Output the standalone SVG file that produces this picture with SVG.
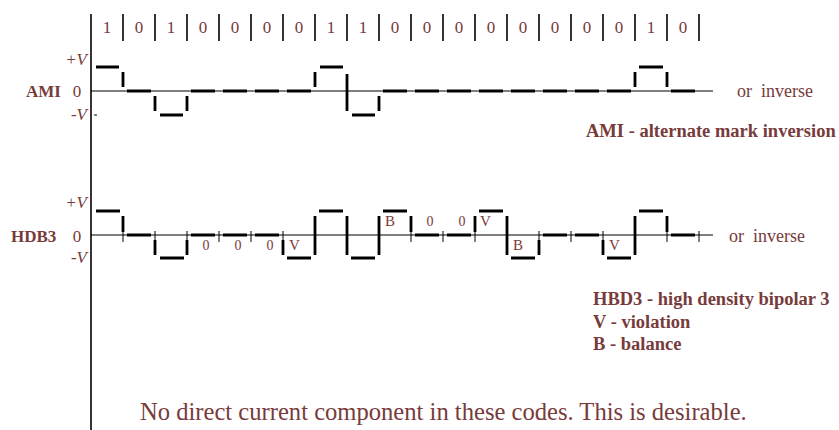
<svg xmlns="http://www.w3.org/2000/svg" width="839" height="430" viewBox="0 0 839 430">
<style>
.t{font-family:"Liberation Serif","Times New Roman",serif;fill:#773b3b}
.b{font-weight:bold}
.i{font-style:italic}
.thin{stroke:#000;stroke-width:1;fill:none}
.ax{stroke:#000;stroke-width:1.6;fill:none}
.p{stroke:#000;stroke-width:2.8;fill:none}
</style>
<rect width="839" height="430" fill="#fff"/>
<g id="axis">
<line class="ax" x1="91" y1="14" x2="91" y2="430"/>
</g>
<g id="bit-row">
<path class="ax" d="M123 14V41M155 14V41M187 14V41M219 14V41M251 14V41M283 14V41M315 14V41M347 14V41M379 14V41M411 14V41M443 14V41M475 14V41M507 14V41M539 14V41M571 14V41M603 14V41M635 14V41M667 14V41M699 14V41"/>
<g class="t" font-size="17" text-anchor="middle">
<text x="107" y="33">1</text><text x="139" y="33">0</text><text x="171" y="33">1</text><text x="203" y="33">0</text><text x="235" y="33">0</text><text x="267" y="33">0</text><text x="299" y="33">0</text><text x="331" y="33">1</text><text x="363" y="33">1</text><text x="395" y="33">0</text><text x="427" y="33">0</text><text x="459" y="33">0</text><text x="491" y="33">0</text><text x="523" y="33">0</text><text x="555" y="33">0</text><text x="587" y="33">0</text><text x="619" y="33">0</text><text x="651" y="33">1</text><text x="683" y="33">0</text>
</g>
</g>
<g id="ami">
<line class="thin" x1="91" y1="91" x2="713" y2="91"/>
<line class="thin" x1="94" y1="115" x2="97" y2="115"/>
<path class="p" d="M96 67H119M123 72V87M127 91H151M155 96V111M160 115H183M187 96V111M191 91H215M223 91H247M255 91H279M287 91H311M315 72V87M320 67H343M347 74V111M352 115H375M379 96V111M383 91H407M415 91H439M447 91H471M479 91H503M511 91H535M543 91H567M575 91H599M607 91H631M635 72V87M639 67H663M667 72V87M671 91H695"/>
<g class="t">
<text class="i" x="87" y="65" font-size="17" text-anchor="end">+V</text>
<text class="b" x="26" y="97" font-size="17">AMI</text>
<text x="77" y="97" font-size="17" text-anchor="middle">0</text>
<text class="i" x="87" y="120" font-size="17" text-anchor="end">-V</text>
<text x="737" y="97" font-size="18" xml:space="preserve">or  inverse</text>
<text class="b" x="586" y="137" font-size="18.5">AMI - alternate mark inversion</text>
</g>
</g>
<g id="hdb3">
<line class="thin" x1="91" y1="235" x2="713" y2="235"/>
<path class="thin" d="M123 231V242M155 231V242M187 231V242M219 231V242M251 231V242M283 231V242M411 231V242M443 231V242M475 231V242M539 231V242M571 231V242M603 231V242M667 231V242M699 231V242"/>
<path class="p" d="M96 211H120M123 216V232M127 235H151M155 240V255M160 258H184M187 240V255M191 235H215M223 235H247M255 235H279M283 240V255M287 258H311M315 216V255M319 211H343M347 216V255M351 258H375M379 216V255M383 211H407M411 216V232M415 235H439M447 235H471M475 216V232M479 211H503M507 216V255M511 258H535M539 240V255M543 235H567M575 235H599M603 240V255M607 258H631M635 216V255M639 211H663M667 216V232M671 235H695"/>
<g class="t">
<text class="i" x="87" y="208" font-size="17" text-anchor="end">+V</text>
<text class="b" x="11" y="242" font-size="17">HDB3</text>
<text x="77" y="242" font-size="17" text-anchor="middle">0</text>
<text class="i" x="87" y="263" font-size="17" text-anchor="end">-V</text>
<text x="729" y="242" font-size="18" xml:space="preserve">or  inverse</text>
<g font-size="14" text-anchor="middle">
<text x="206" y="250">0</text><text x="238" y="250">0</text><text x="270" y="250">0</text>
<text x="430" y="226">0</text><text x="462" y="226">0</text>
</g>
<g font-size="15">
<text x="289" y="250">V</text>
<text x="385" y="226">B</text>
<text x="480" y="226">V</text>
<text x="513" y="250">B</text>
<text x="609" y="250">V</text>
</g>
</g>
</g>
<g id="legend" class="t b" font-size="18.5">
<text x="593" y="305">HBD3 - high density bipolar 3</text>
<text x="593" y="328">V - violation</text>
<text x="593" y="350">B - balance</text>
</g>
<g id="note">
<text class="t" x="140" y="420" font-size="24.6">No direct current component in these codes. This is desirable.</text>
</g>
</svg>
